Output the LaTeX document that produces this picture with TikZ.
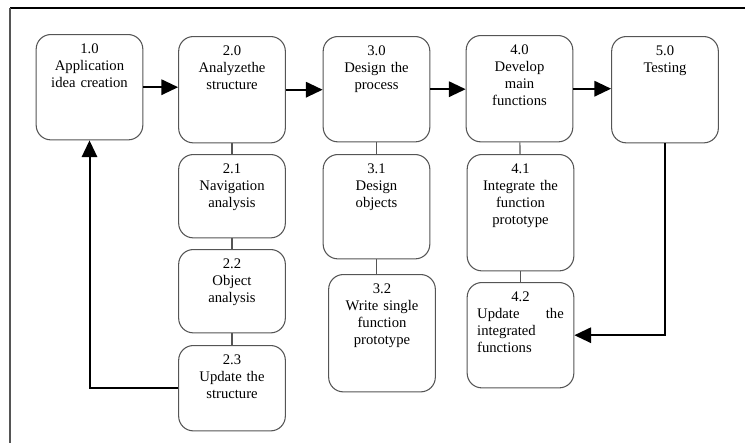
\documentclass[tikz,border=0pt]{standalone}
\usepackage{fontspec}
\setmainfont{Liberation Serif}
\usetikzlibrary{arrows.meta, positioning}
\definecolor{boxgray}{RGB}{85,85,85}

\begin{document}
\begin{tikzpicture}[
    x=0.75pt, y=-0.75pt,
    stage/.style={draw=boxgray, line width=0.8pt, rectangle, rounded corners=11pt, anchor=north,
      align=center, text width=72pt, inner xsep=4pt, inner ysep=4pt, text height=10pt,
      font=\fontsize{11}{12.75}\selectfont},
    link/.style={draw=boxgray, line width=0.8pt},
    flow/.style={draw, line width=\edgewidth, -{Triangle[length=12.5pt, width=11.5pt]}}
  ]
    \def\edgewidth{1.5pt}
  \useasboundingbox (0,0) rectangle (745,443);
  % frame
  \draw[line width=1.5pt] (10,8) -- (745,8);
  \draw[boxgray, line width=1.2pt] (10,8) -- (10,443);

  \node[stage, text depth=61pt] (n10) at (89.5,34) {1.0\\Application\\idea creation};
  \node[stage, text depth=61.75pt] (n20) at (232,36) {2.0\\Analyzethe\\structure};
  \node[stage, text depth=44.5pt] (n21) at (232,154) {2.1\\Navigation\\analysis};
  \node[stage, text depth=44.5pt] (n22) at (232,249) {2.2\\Object\\analysis};
  \node[stage, text depth=46pt] (n23) at (232,345) {2.3\\Update the\\structure};
  \node[stage, text depth=61pt] (n30) at (376.5,36) {3.0\\Design the\\process};
  \node[stage, text depth=60.25pt] (n31) at (376.5,154) {3.1\\Design\\objects};
  \node[stage, text depth=70pt] (n32) at (382,274) {3.2\\Write single\\function\\prototype};
  \node[stage, text depth=61.75pt] (n40) at (519.5,35) {4.0\\Develop\\main\\functions};
  \node[stage, text depth=69.25pt] (n41) at (520.5,154) {4.1\\Integrate the\\function\\prototype};
  \node[stage, text depth=61pt] (n42) at (520.5,282) {4.2\\\makebox[65pt][s]{Update\hfill the}\\\makebox[65pt][l]{integrated}\\\makebox[65pt][l]{functions}};
  \node[stage, text depth=61.75pt] (n50) at (665,36) {5.0\\Testing};

  % main flow
  \draw[flow] (n10.east) -- (n10.east -| n20.west);
  \draw[flow] (n20.east) -- (n20.east -| n30.west);
  \draw[flow] (n30.east) -- (n30.east -| n40.west);
  \draw[flow] (n40.east) -- (n40.east -| n50.west);
  \draw[flow] (n23.west) -| (n10.south);
  \draw[flow] (n50.south) |- (n42.east);

  % sub steps
  \draw[link] (n20) -- (n21);
  \draw[link] (n21) -- (n22);
  \draw[link] (n22) -- (n23);
  \draw[link] (n30) -- (n31);
  \draw[link] (n31.south) -- (n31.south |- n32.north);
  \draw[link] (n40) -- (n41);
  \draw[link] (n41) -- (n42);
\end{tikzpicture}
\end{document}
